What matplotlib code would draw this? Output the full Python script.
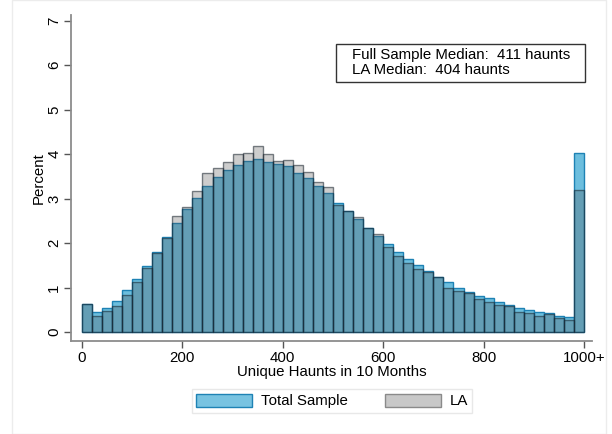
import matplotlib
matplotlib.use("Agg")
import matplotlib.pyplot as plt
from matplotlib.patches import Patch, Rectangle
import numpy as np

plt.rcParams['font.family'] = ['Liberation Sans', 'DejaVu Sans']

bin_width = 20
bin_starts = list(range(0, 1000, bin_width))  # 50 bins, last one is "1000+"
total_sample = [0.62, 0.44, 0.54, 0.69, 0.94, 1.18, 1.48, 1.80, 2.13, 2.44,
                2.77, 3.01, 3.29, 3.49, 3.64, 3.76, 3.85, 3.88, 3.83, 3.78,
                3.72, 3.58, 3.45, 3.27, 3.13, 2.89, 2.73, 2.54, 2.34, 2.15,
                1.98, 1.79, 1.63, 1.50, 1.36, 1.24, 1.12, 1.00, 0.91, 0.82,
                0.76, 0.68, 0.61, 0.55, 0.49, 0.44, 0.42, 0.37, 0.33, 4.03]
la = [0.62, 0.37, 0.47, 0.58, 0.83, 1.12, 1.44, 1.78, 2.12, 2.60,
      2.80, 3.17, 3.57, 3.69, 3.82, 4.01, 4.03, 4.17, 3.99, 3.85,
      3.87, 3.75, 3.60, 3.36, 3.25, 2.85, 2.72, 2.58, 2.33, 2.20,
      1.90, 1.71, 1.55, 1.42, 1.35, 1.24, 1.00, 0.92, 0.87, 0.74,
      0.67, 0.60, 0.58, 0.45, 0.42, 0.35, 0.40, 0.32, 0.27, 3.18]
x_ticks = [0, 200, 400, 600, 800, 1000]
x_tick_labels = ["0", "200", "400", "600", "800", "1000+"]
y_ticks = [0, 1, 2, 3, 4, 5, 6, 7]
box_text = "Full Sample Median:  411 haunts\nLA Median:  404 haunts"

FS = 10.8
blue_face = (108/255, 190/255, 222/255)
blue_edge = (30/255, 130/255, 180/255)
la_face = (83/255, 83/255, 83/255, 0.29)
la_edge = (20/255, 30/255, 40/255, 0.55)
axis_col = '#8c8c8c'

fig = plt.figure(figsize=(6.12, 4.34), dpi=100)
fig.patches.append(Rectangle((12/612, 0), 594/612, 1, transform=fig.transFigure,
                             fill=False, edgecolor='#ececec', linewidth=1.0))
ax = fig.add_axes([71/612, 1 - 341/434, 521/612, 326/434])

ax.bar(bin_starts, total_sample, width=bin_width, align='edge',
       facecolor=blue_face, edgecolor=blue_edge, linewidth=1.0, label='Total Sample')
ax.bar(bin_starts, la, width=bin_width, align='edge',
       facecolor=la_face, edgecolor=la_edge, linewidth=1.0, label='LA')

ax.set_xlim((71 - 82) / 0.502, (592 - 82) / 0.502)
ax.set_ylim(-9 / 44.5, (332 - 15) / 44.5)

ax.set_xticks(x_ticks)
ax.set_xticklabels(x_tick_labels, fontsize=FS)
ax.set_yticks(y_ticks)
ax.set_yticklabels([str(v) for v in y_ticks], fontsize=FS, rotation=90, va='center')

for s in ['top', 'right']:
    ax.spines[s].set_visible(False)
for s in ['left', 'bottom']:
    ax.spines[s].set_color(axis_col)
    ax.spines[s].set_linewidth(1.3)
ax.tick_params(axis='both', colors='#555555', length=5, width=1.0, labelcolor='black')
ax.tick_params(axis='x', pad=2)
ax.tick_params(axis='y', pad=2)

ax.set_xlabel("Unique Haunts in 10 Months", fontsize=FS, labelpad=0)
ax.set_ylabel("Percent", fontsize=FS, labelpad=1)

# annotation box
ax.add_patch(Rectangle(((336 - 71) / 521, (341 - 82) / 326), (585 - 336) / 521, (82 - 44) / 326,
                       transform=ax.transAxes, facecolor='white', edgecolor='#333333',
                       linewidth=1.0, zorder=5))
ax.text((352 - 71) / 521, (341 - 48.5) / 326, box_text, transform=ax.transAxes, fontsize=FS,
        va='top', ha='left', linespacing=1.07, zorder=6)

handles = [Patch(facecolor=(120/255, 195/255, 225/255), edgecolor=blue_edge, linewidth=1.0),
           Patch(facecolor=(200/255, 200/255, 200/255), edgecolor='#8a8a8a', linewidth=1.0)]
leg = fig.legend(handles, ['Total Sample', 'LA'], loc='center',
                 bbox_to_anchor=(332/612, 1 - 401/434), ncol=2, frameon=True,
                 fontsize=FS, handlelength=3.7, handleheight=1.0,
                 columnspacing=2.5, handletextpad=0.6, borderpad=0.3,
                 fancybox=False)
leg.get_frame().set_edgecolor('#e3e3e3')
leg.get_frame().set_linewidth(1.0)

fig.savefig("out.png", dpi=100)
